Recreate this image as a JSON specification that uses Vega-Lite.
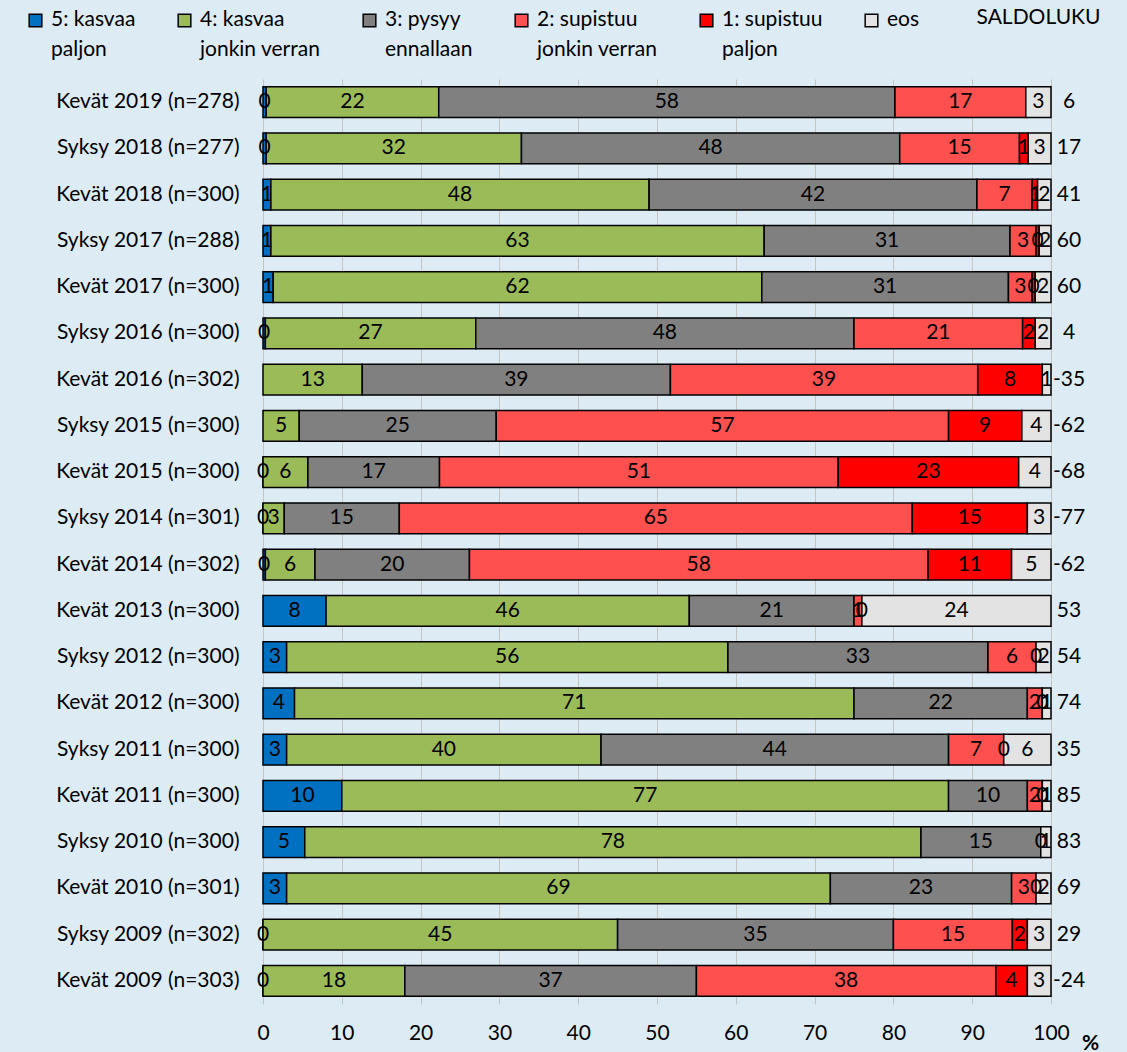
{
  "$schema": "https://vega.github.io/schema/vega-lite/v6.json",
  "autosize": {"type": "none"},
  "width": 788,
  "height": 925,
  "padding": {"left": 263, "top": 79, "right": 76, "bottom": 48},
  "background": "#ddebf4",
  "config": {
    "font": "Lato",
    "view": {"stroke": null},
    "style": {"guide-label": {"lineHeight": 30}}
  },
  "data": {
    "values": [
      {"kausi": "Kevät 2019 (n=278)", "5: kasvaa paljon": 0.4, "4: kasvaa jonkin verran": 21.9, "3: pysyy ennallaan": 57.9, "2: supistuu jonkin verran": 16.6, "eos": 3.2, "saldo": 6},
      {"kausi": "Syksy 2018 (n=277)", "5: kasvaa paljon": 0.4, "4: kasvaa jonkin verran": 32.4, "3: pysyy ennallaan": 48.0, "2: supistuu jonkin verran": 15.2, "1: supistuu paljon": 1.1, "eos": 2.9, "saldo": 17},
      {"kausi": "Kevät 2018 (n=300)", "5: kasvaa paljon": 1.0, "4: kasvaa jonkin verran": 48.0, "3: pysyy ennallaan": 41.6, "2: supistuu jonkin verran": 7.0, "1: supistuu paljon": 0.7, "eos": 1.7, "saldo": 41},
      {"kausi": "Syksy 2017 (n=288)", "5: kasvaa paljon": 1.0, "4: kasvaa jonkin verran": 62.6, "3: pysyy ennallaan": 31.2, "2: supistuu jonkin verran": 3.3, "1: supistuu paljon": 0.4, "eos": 1.5, "saldo": 60},
      {"kausi": "Kevät 2017 (n=300)", "5: kasvaa paljon": 1.3, "4: kasvaa jonkin verran": 62.0, "3: pysyy ennallaan": 31.3, "2: supistuu jonkin verran": 3.0, "1: supistuu paljon": 0.4, "eos": 2.0, "saldo": 60},
      {"kausi": "Syksy 2016 (n=300)", "5: kasvaa paljon": 0.3, "4: kasvaa jonkin verran": 26.7, "3: pysyy ennallaan": 48.0, "2: supistuu jonkin verran": 21.4, "1: supistuu paljon": 1.6, "eos": 2.0, "saldo": 4},
      {"kausi": "Kevät 2016 (n=302)", "4: kasvaa jonkin verran": 12.6, "3: pysyy ennallaan": 39.1, "2: supistuu jonkin verran": 39.0, "1: supistuu paljon": 8.2, "eos": 1.1, "saldo": -35},
      {"kausi": "Syksy 2015 (n=300)", "4: kasvaa jonkin verran": 4.6, "3: pysyy ennallaan": 25.0, "2: supistuu jonkin verran": 57.4, "1: supistuu paljon": 9.3, "eos": 3.7, "saldo": -62},
      {"kausi": "Kevät 2015 (n=300)", "5: kasvaa paljon": 0, "4: kasvaa jonkin verran": 5.7, "3: pysyy ennallaan": 16.7, "2: supistuu jonkin verran": 50.6, "1: supistuu paljon": 22.9, "eos": 4.1, "saldo": -68},
      {"kausi": "Syksy 2014 (n=301)", "5: kasvaa paljon": 0, "4: kasvaa jonkin verran": 2.7, "3: pysyy ennallaan": 14.6, "2: supistuu jonkin verran": 65.1, "1: supistuu paljon": 14.6, "eos": 3.0, "saldo": -77},
      {"kausi": "Kevät 2014 (n=302)", "5: kasvaa paljon": 0.3, "4: kasvaa jonkin verran": 6.3, "3: pysyy ennallaan": 19.6, "2: supistuu jonkin verran": 58.2, "1: supistuu paljon": 10.6, "eos": 5.0, "saldo": -62},
      {"kausi": "Kevät 2013 (n=300)", "5: kasvaa paljon": 8.0, "4: kasvaa jonkin verran": 46.1, "3: pysyy ennallaan": 20.9, "2: supistuu jonkin verran": 1.0, "1: supistuu paljon": 0, "eos": 24.0, "saldo": 53},
      {"kausi": "Syksy 2012 (n=300)", "5: kasvaa paljon": 3.0, "4: kasvaa jonkin verran": 56.0, "3: pysyy ennallaan": 33.0, "2: supistuu jonkin verran": 6.1, "1: supistuu paljon": 0, "eos": 1.9, "saldo": 54},
      {"kausi": "Kevät 2012 (n=300)", "5: kasvaa paljon": 4.0, "4: kasvaa jonkin verran": 71.0, "3: pysyy ennallaan": 22.0, "2: supistuu jonkin verran": 1.9, "1: supistuu paljon": 0, "eos": 1.1, "saldo": 74},
      {"kausi": "Syksy 2011 (n=300)", "5: kasvaa paljon": 3.0, "4: kasvaa jonkin verran": 39.9, "3: pysyy ennallaan": 44.1, "2: supistuu jonkin verran": 7.0, "1: supistuu paljon": 0, "eos": 6.0, "saldo": 35},
      {"kausi": "Kevät 2011 (n=300)", "5: kasvaa paljon": 10.0, "4: kasvaa jonkin verran": 77.0, "3: pysyy ennallaan": 10.0, "2: supistuu jonkin verran": 1.9, "1: supistuu paljon": 0, "eos": 1.1, "saldo": 85},
      {"kausi": "Syksy 2010 (n=300)", "5: kasvaa paljon": 5.3, "4: kasvaa jonkin verran": 78.2, "3: pysyy ennallaan": 15.2, "1: supistuu paljon": 0, "eos": 1.3, "saldo": 83},
      {"kausi": "Kevät 2010 (n=301)", "5: kasvaa paljon": 3.0, "4: kasvaa jonkin verran": 69.0, "3: pysyy ennallaan": 23.0, "2: supistuu jonkin verran": 3.1, "1: supistuu paljon": 0, "eos": 1.9, "saldo": 69},
      {"kausi": "Syksy 2009 (n=302)", "5: kasvaa paljon": 0, "4: kasvaa jonkin verran": 45.0, "3: pysyy ennallaan": 35.0, "2: supistuu jonkin verran": 15.1, "1: supistuu paljon": 1.9, "eos": 3.0, "saldo": 29},
      {"kausi": "Kevät 2009 (n=303)", "5: kasvaa paljon": 0, "4: kasvaa jonkin verran": 18.0, "3: pysyy ennallaan": 37.0, "2: supistuu jonkin verran": 38.0, "1: supistuu paljon": 4.0, "eos": 3.0, "saldo": -24}
    ]
  },
  "encoding": {
    "y": {
      "field": "kausi",
      "type": "nominal",
      "sort": null,
      "scale": {"paddingInner": 0.33, "paddingOuter": 0.165},
      "axis": {
        "ticks": false,
        "domain": false,
        "labelFontSize": 21,
        "labelColor": "#000000",
        "labelPadding": 24,
        "labelLimit": 400,
        "title": "SALDOLUKU",
        "titleAngle": 0,
        "titleX": 775,
        "titleY": -62,
        "titleAlign": "center",
        "titleBaseline": "middle",
        "titleFontSize": 21,
        "titleFontWeight": "normal",
        "titleColor": "#000000"
      }
    }
  },
  "layer": [
    {
      "transform": [
        {"fold": ["5: kasvaa paljon", "4: kasvaa jonkin verran", "3: pysyy ennallaan", "2: supistuu jonkin verran", "1: supistuu paljon", "eos"], "as": ["vastaus", "osuus"]},
        {"filter": "isValid(datum.osuus)"},
        {"stack": "osuus", "groupby": ["kausi"], "as": ["x0", "x1"]}
      ],
      "mark": {"type": "bar", "stroke": "#000000", "strokeWidth": 1.5},
      "encoding": {
        "x": {
          "field": "x0",
          "type": "quantitative",
          "scale": {"domain": [0, 100], "nice": false},
          "axis": {
            "values": [0, 10, 20, 30, 40, 50, 60, 70, 80, 90, 100],
            "grid": true,
            "gridColor": "#c4c4c4",
            "gridWidth": 1,
            "ticks": false,
            "domain": false,
            "labelFlush": false,
            "labelFontSize": 21,
            "labelColor": "#000000",
            "labelPadding": 18,
            "title": "%",
            "titleX": 827,
            "titleY": 39,
            "titleAlign": "center",
            "titleBaseline": "middle",
            "titleFontSize": 21,
            "titleFontWeight": "bold",
            "titleColor": "#000000"
          }
        },
        "x2": {"field": "x1"},
        "color": {
          "field": "vastaus",
          "type": "nominal",
          "scale": {
            "domain": ["5: kasvaa paljon", "4: kasvaa jonkin verran", "3: pysyy ennallaan", "2: supistuu jonkin verran", "1: supistuu paljon", "eos"],
            "range": ["#0070c0", "#9bbb59", "#808080", "#ff5050", "#ff0000", "#e3e3e3"]
          },
          "legend": {
            "orient": "none",
            "legendX": -238,
            "legendY": -81,
            "direction": "horizontal",
            "columns": 6,
            "title": null,
            "padding": 0,
            "symbolType": "M-1,0.85H1V2.85H-1Z",
            "symbolSize": 160,
            "symbolStrokeColor": "#000000",
            "symbolStrokeWidth": 1.5,
            "labelFontSize": 21,
            "labelColor": "#000000",
            "labelOffset": 5,
            "labelBaseline": "top",
            "labelLimit": 300,
            "columnPadding": 38,
            "labelExpr": "[join(slice(split(datum.label, ' '), 0, 2), ' '), join(slice(split(datum.label, ' '), 2), ' ')]"
          }
        }
      }
    },
    {
      "transform": [
        {"fold": ["5: kasvaa paljon", "4: kasvaa jonkin verran", "3: pysyy ennallaan", "2: supistuu jonkin verran", "1: supistuu paljon", "eos"], "as": ["vastaus", "osuus"]},
        {"filter": "isValid(datum.osuus)"},
        {"stack": "osuus", "groupby": ["kausi"], "as": ["x0", "x1"]},
        {"calculate": "(datum.x0 + datum.x1) / 2", "as": "xm"}
      ],
      "mark": {"type": "text", "fontSize": 21, "color": "#000000", "align": "center", "baseline": "middle"},
      "encoding": {
        "x": {"field": "xm", "type": "quantitative"},
        "text": {"field": "osuus", "type": "quantitative", "format": ".0f"}
      }
    },
    {
      "mark": {"type": "text", "fontSize": 21, "color": "#000000", "align": "center", "baseline": "middle", "dx": 18},
      "encoding": {
        "x": {"datum": 100, "type": "quantitative"},
        "text": {"field": "saldo", "type": "nominal"}
      }
    }
  ]
}
